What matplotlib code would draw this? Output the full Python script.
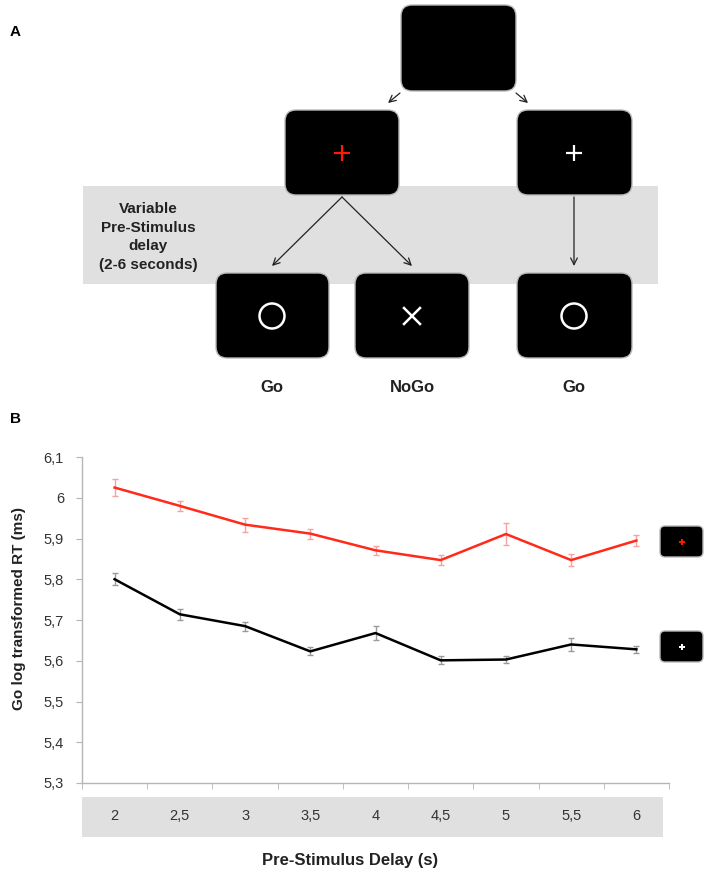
import matplotlib
matplotlib.use("Agg")
import matplotlib.pyplot as plt
from matplotlib.patches import FancyBboxPatch, Rectangle, Circle
import numpy as np

plt.rcParams['font.family'] = ['Liberation Sans', 'DejaVu Sans']

# data
delays = ["2", "2,5", "3", "3,5", "4", "4,5", "5", "5,5", "6"]
red_rt = [6.025, 5.980, 5.934, 5.912, 5.871, 5.847, 5.911, 5.847, 5.895]
red_err = [0.020, 0.012, 0.017, 0.012, 0.011, 0.012, 0.027, 0.015, 0.013]
white_rt = [5.800, 5.714, 5.685, 5.623, 5.668, 5.601, 5.603, 5.640, 5.628]
white_err = [0.015, 0.013, 0.011, 0.010, 0.018, 0.010, 0.009, 0.015, 0.008]
yticks = [5.3, 5.4, 5.5, 5.6, 5.7, 5.8, 5.9, 6.0, 6.1]
ytick_labels = ["5,3", "5,4", "5,5", "5,6", "5,7", "5,8", "5,9", "6", "6,1"]
branch_labels = ["Go", "NoGo", "Go"]

W, H = 709, 873
fig = plt.figure(figsize=(W / 100, H / 100), dpi=100)

# overlay in pixel coords for the diagram and decorations
bg = fig.add_axes([0, 0, 1, 1])
bg.set_xlim(0, W)
bg.set_ylim(H, 0)
bg.axis('off')
bg.set_zorder(0)


def screen(x0, y0, x1, y1):
    box = FancyBboxPatch((x0, y0), x1 - x0, y1 - y0,
                         boxstyle="round,pad=0,rounding_size=11",
                         fc='black', ec='#b8b8b8', lw=1.0, zorder=3)
    bg.add_patch(box)


def plus(cx, cy, size, color, lw):
    bg.plot([cx - size, cx + size], [cy, cy], color=color, lw=lw, zorder=4,
            solid_capstyle='butt')
    bg.plot([cx, cx], [cy - size, cy + size], color=color, lw=lw, zorder=4,
            solid_capstyle='butt')


def arrow(x0, y0, x1, y1):
    bg.annotate("", xy=(x1, y1), xytext=(x0, y0),
                arrowprops=dict(arrowstyle='->', color='#222222', lw=0.9,
                                mutation_scale=12, shrinkA=0, shrinkB=0),
                zorder=5)


# panel A
bg.text(10, 32, "A", fontsize=11, fontweight='bold', va='center')
bg.add_patch(Rectangle((83, 186), 575, 98, fc='#e0e0e0', ec='none', zorder=1))
bg.text(148, 237, "Variable\nPre-Stimulus\ndelay\n(2-6 seconds)", ha='center',
        va='center', fontsize=11, fontweight='bold', color='#222222',
        linespacing=1.4, zorder=2)

screen(401, 5, 516, 91)
screen(285, 110, 399, 195)
screen(517, 110, 632, 195)
screen(216, 273, 329, 358)
screen(355, 273, 469, 358)
screen(517, 273, 632, 358)

plus(342, 153, 8, '#ff1a00', 1.6)
plus(574, 153, 8, 'white', 1.6)
bg.add_patch(Circle((272, 316), 12.5, fc='none', ec='white', lw=1.8, zorder=4))
bg.add_patch(Circle((574, 316), 12.5, fc='none', ec='white', lw=1.8, zorder=4))
bg.plot([404, 420], [308, 324], color='white', lw=1.8, zorder=4)
bg.plot([404, 420], [324, 308], color='white', lw=1.8, zorder=4)

arrow(400, 93, 388, 103)
arrow(516, 93, 528, 103)
arrow(342, 197, 272, 266)
arrow(342, 197, 412, 266)
arrow(574, 197, 574, 266)

for x, lab in zip([272, 412, 574], branch_labels):
    bg.text(x, 388, lab, ha='center', va='center', fontsize=12,
            fontweight='bold', color='#222222')

# panel B
bg.text(10, 419, "B", fontsize=11, fontweight='bold', va='center')
bg.add_patch(Rectangle((82, 797), 581, 40, fc='#e0e0e0', ec='none', zorder=1))

# small legend screens
for y0, col in [(526, '#ff1a00'), (631, 'white')]:
    box = FancyBboxPatch((660, y0), 43, 31, boxstyle="round,pad=0,rounding_size=5",
                         fc='black', ec='#b8b8b8', lw=1.0, zorder=3)
    bg.add_patch(box)
    plus(681.5, y0 + 15.5, 3, col, 1.4)

ax = fig.add_axes([82 / W, 1 - 783 / H, 587 / W, 326 / H])
ax.set_zorder(1)
ax.patch.set_alpha(0)

x = np.arange(len(delays))
ax.errorbar(x, red_rt, yerr=red_err, color='#ff2a1a', lw=1.8, ecolor='#f4a3a0',
            elinewidth=1.0, capsize=2.5, capthick=1.0)
ax.errorbar(x, white_rt, yerr=white_err, color='black', lw=1.8, ecolor='#9a9a9a',
            elinewidth=1.0, capsize=2.5, capthick=1.0)

ax.set_xlim(-0.5, len(delays) - 0.5)
ax.set_ylim(5.3, 6.1)
ax.set_yticks(yticks)
ax.set_yticklabels(ytick_labels)
ax.set_xticks(x)
ax.set_xticklabels(delays)
ax.set_xticks(np.arange(-0.5, len(delays)), minor=True)

for s in ['top', 'right']:
    ax.spines[s].set_visible(False)
for s in ['left', 'bottom']:
    ax.spines[s].set_color('#b5b5b5')
    ax.spines[s].set_linewidth(1.0)

ax.tick_params(axis='y', length=4, color='#b5b5b5', labelsize=10.5,
               labelcolor='#333333', pad=9)
ax.tick_params(axis='x', which='major', length=0, labelsize=10.5,
               labelcolor='#333333', pad=19)
ax.tick_params(axis='x', which='minor', length=4, color='#b5b5b5')

ax.set_ylabel("Go log transformed RT (ms)", fontsize=11, fontweight='bold',
              color='#222222')
ax.yaxis.set_label_coords(-56 / 587, (783 - 608) / 326)
bg.text(350, 860, "Pre-Stimulus Delay (s)", ha='center', va='center',
        fontsize=12, fontweight='bold', color='#222222')

fig.savefig("out.png", dpi=100)
